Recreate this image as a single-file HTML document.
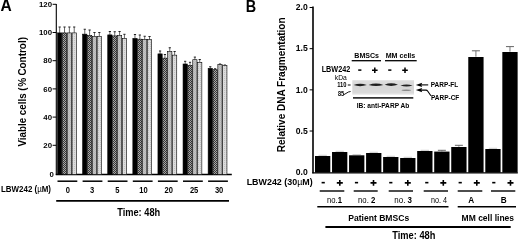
<!DOCTYPE html>
<html><head><meta charset="utf-8"><style>
html,body{margin:0;padding:0;background:#fff;}
svg{display:block;filter:blur(0.3px);}
text{font-family:"Liberation Sans", sans-serif;fill:#000;}
.tk{font-size:7.8px;font-weight:bold;}
.tkb{font-size:8.6px;font-weight:bold;}
.xl{font-size:8.7px;font-weight:bold;}
.lbw{font-size:8.5px;font-weight:bold;}
.time{font-size:10px;font-weight:bold;}
.yl{font-size:10.2px;font-weight:bold;}
.pl{font-size:16.4px;font-weight:bold;}
.pm{font-size:11px;font-weight:bold;}
.no{font-size:8.2px;}
.ab{font-size:8.2px;font-weight:bold;}
.grp{font-size:9.6px;font-weight:bold;}
.ins{font-size:7.9px;font-weight:bold;}
.pmi{font-size:10px;font-weight:bold;}
.kda{font-size:7.6px;}
</style></head>
<body><svg width="520" height="240" viewBox="0 0 520 240">
<defs>
<pattern id="pX" width="2" height="2" patternUnits="userSpaceOnUse"><rect width="2" height="2" fill="#a8a8a8"/><rect width="1" height="1" fill="#383838"/><rect x="1" y="1" width="1" height="1" fill="#383838"/></pattern>
<pattern id="pL" width="2" height="2" patternUnits="userSpaceOnUse"><rect width="2" height="2" fill="#c4c4c4"/><rect width="1" height="1" fill="#b6b6b6"/><rect x="1" y="1" width="1" height="1" fill="#b6b6b6"/></pattern>
<pattern id="pD" width="2" height="2" patternUnits="userSpaceOnUse"><rect width="2" height="2" fill="#dcdcdc"/><rect width="1" height="1" fill="#c2c2c2"/></pattern>
<linearGradient id="gBlot" x1="0" y1="0" x2="0" y2="1"><stop offset="0" stop-color="#dedede"/><stop offset="0.5" stop-color="#d6d6d6"/><stop offset="0.85" stop-color="#dadada"/><stop offset="1" stop-color="#ececec"/></linearGradient>
</defs>
<rect width="520" height="240" fill="#fff"/>
<line x1="56.3" y1="4" x2="56.3" y2="175" stroke="#000" stroke-width="1.1"/>
<line x1="55.8" y1="174.5" x2="231.8" y2="174.5" stroke="#000" stroke-width="1.3"/>
<text x="53.9" y="176.60" text-anchor="end" class="tk">0</text>
<line x1="52.6" y1="145.30" x2="56.3" y2="145.30" stroke="#000" stroke-width="1"/>
<text x="52" y="148.05" text-anchor="end" class="tk">20</text>
<line x1="52.6" y1="117.10" x2="56.3" y2="117.10" stroke="#000" stroke-width="1"/>
<text x="52" y="119.85" text-anchor="end" class="tk">40</text>
<line x1="52.6" y1="88.90" x2="56.3" y2="88.90" stroke="#000" stroke-width="1"/>
<text x="52" y="91.65" text-anchor="end" class="tk">60</text>
<line x1="52.6" y1="60.70" x2="56.3" y2="60.70" stroke="#000" stroke-width="1"/>
<text x="52" y="63.45" text-anchor="end" class="tk">80</text>
<line x1="52.6" y1="32.50" x2="56.3" y2="32.50" stroke="#000" stroke-width="1"/>
<text x="52" y="35.25" text-anchor="end" class="tk">100</text>
<line x1="52.6" y1="4.30" x2="56.3" y2="4.30" stroke="#000" stroke-width="1"/>
<text x="52" y="7.05" text-anchor="end" class="tk">120</text>
<line x1="59.67" y1="27.00" x2="59.67" y2="32.90" stroke="#666" stroke-width="1"/>
<line x1="58.57" y1="27.00" x2="60.77" y2="27.00" stroke="#222" stroke-width="1"/>
<rect x="57.55" y="32.90" width="4.25" height="141.60" fill="#000" stroke="#000" stroke-width="0.6"/>
<line x1="64.53" y1="27.00" x2="64.53" y2="32.90" stroke="#666" stroke-width="1"/>
<line x1="63.43" y1="27.00" x2="65.62" y2="27.00" stroke="#222" stroke-width="1"/>
<rect x="62.40" y="32.90" width="4.25" height="141.60" fill="url(#pX)" stroke="#000" stroke-width="0.6"/>
<line x1="69.38" y1="27.00" x2="69.38" y2="32.90" stroke="#666" stroke-width="1"/>
<line x1="68.28" y1="27.00" x2="70.47" y2="27.00" stroke="#222" stroke-width="1"/>
<rect x="67.25" y="32.90" width="4.25" height="141.60" fill="url(#pL)" stroke="#000" stroke-width="0.6"/>
<line x1="74.22" y1="27.00" x2="74.22" y2="32.90" stroke="#666" stroke-width="1"/>
<line x1="73.12" y1="27.00" x2="75.32" y2="27.00" stroke="#222" stroke-width="1"/>
<rect x="72.10" y="32.90" width="4.25" height="141.60" fill="url(#pD)" stroke="#000" stroke-width="0.6"/>
<line x1="57.50" y1="181.2" x2="77.30" y2="181.2" stroke="#000" stroke-width="1.5"/>
<line x1="84.77" y1="29.25" x2="84.77" y2="34.15" stroke="#666" stroke-width="1"/>
<line x1="83.67" y1="29.25" x2="85.87" y2="29.25" stroke="#222" stroke-width="1"/>
<rect x="82.65" y="34.15" width="4.25" height="140.35" fill="#000" stroke="#000" stroke-width="0.6"/>
<line x1="89.62" y1="30.00" x2="89.62" y2="35.40" stroke="#666" stroke-width="1"/>
<line x1="88.52" y1="30.00" x2="90.72" y2="30.00" stroke="#222" stroke-width="1"/>
<rect x="87.50" y="35.40" width="4.25" height="139.10" fill="url(#pX)" stroke="#000" stroke-width="0.6"/>
<line x1="94.47" y1="32.50" x2="94.47" y2="36.40" stroke="#666" stroke-width="1"/>
<line x1="93.38" y1="32.50" x2="95.57" y2="32.50" stroke="#222" stroke-width="1"/>
<rect x="92.35" y="36.40" width="4.25" height="138.10" fill="url(#pL)" stroke="#000" stroke-width="0.6"/>
<line x1="99.32" y1="32.50" x2="99.32" y2="36.40" stroke="#666" stroke-width="1"/>
<line x1="98.22" y1="32.50" x2="100.42" y2="32.50" stroke="#222" stroke-width="1"/>
<rect x="97.20" y="36.40" width="4.25" height="138.10" fill="url(#pD)" stroke="#000" stroke-width="0.6"/>
<line x1="82.60" y1="181.2" x2="102.40" y2="181.2" stroke="#000" stroke-width="1.5"/>
<line x1="109.88" y1="31.50" x2="109.88" y2="34.90" stroke="#666" stroke-width="1"/>
<line x1="108.78" y1="31.50" x2="110.97" y2="31.50" stroke="#222" stroke-width="1"/>
<rect x="107.75" y="34.90" width="4.25" height="139.60" fill="#000" stroke="#000" stroke-width="0.6"/>
<line x1="114.72" y1="31.75" x2="114.72" y2="35.90" stroke="#666" stroke-width="1"/>
<line x1="113.62" y1="31.75" x2="115.82" y2="31.75" stroke="#222" stroke-width="1"/>
<rect x="112.60" y="35.90" width="4.25" height="138.60" fill="url(#pX)" stroke="#000" stroke-width="0.6"/>
<line x1="119.58" y1="31.50" x2="119.58" y2="35.40" stroke="#666" stroke-width="1"/>
<line x1="118.48" y1="31.50" x2="120.67" y2="31.50" stroke="#222" stroke-width="1"/>
<rect x="117.45" y="35.40" width="4.25" height="139.10" fill="url(#pL)" stroke="#000" stroke-width="0.6"/>
<line x1="124.42" y1="34.30" x2="124.42" y2="38.40" stroke="#666" stroke-width="1"/>
<line x1="123.33" y1="34.30" x2="125.52" y2="34.30" stroke="#222" stroke-width="1"/>
<rect x="122.30" y="38.40" width="4.25" height="136.10" fill="url(#pD)" stroke="#000" stroke-width="0.6"/>
<line x1="107.70" y1="181.2" x2="127.50" y2="181.2" stroke="#000" stroke-width="1.5"/>
<line x1="134.98" y1="34.50" x2="134.98" y2="38.40" stroke="#666" stroke-width="1"/>
<line x1="133.88" y1="34.50" x2="136.08" y2="34.50" stroke="#222" stroke-width="1"/>
<rect x="132.85" y="38.40" width="4.25" height="136.10" fill="#000" stroke="#000" stroke-width="0.6"/>
<line x1="139.83" y1="35.00" x2="139.83" y2="39.20" stroke="#666" stroke-width="1"/>
<line x1="138.73" y1="35.00" x2="140.93" y2="35.00" stroke="#222" stroke-width="1"/>
<rect x="137.70" y="39.20" width="4.25" height="135.30" fill="url(#pX)" stroke="#000" stroke-width="0.6"/>
<line x1="144.68" y1="36.25" x2="144.68" y2="39.60" stroke="#666" stroke-width="1"/>
<line x1="143.58" y1="36.25" x2="145.78" y2="36.25" stroke="#222" stroke-width="1"/>
<rect x="142.55" y="39.60" width="4.25" height="134.90" fill="url(#pL)" stroke="#000" stroke-width="0.6"/>
<line x1="149.53" y1="36.50" x2="149.53" y2="39.60" stroke="#666" stroke-width="1"/>
<line x1="148.43" y1="36.50" x2="150.63" y2="36.50" stroke="#222" stroke-width="1"/>
<rect x="147.40" y="39.60" width="4.25" height="134.90" fill="url(#pD)" stroke="#000" stroke-width="0.6"/>
<line x1="132.80" y1="181.2" x2="152.60" y2="181.2" stroke="#000" stroke-width="1.5"/>
<line x1="160.08" y1="51.00" x2="160.08" y2="53.90" stroke="#666" stroke-width="1"/>
<line x1="158.98" y1="51.00" x2="161.18" y2="51.00" stroke="#222" stroke-width="1"/>
<rect x="157.95" y="53.90" width="4.25" height="120.60" fill="#000" stroke="#000" stroke-width="0.6"/>
<line x1="164.93" y1="54.50" x2="164.93" y2="58.15" stroke="#666" stroke-width="1"/>
<line x1="163.83" y1="54.50" x2="166.03" y2="54.50" stroke="#222" stroke-width="1"/>
<rect x="162.80" y="58.15" width="4.25" height="116.35" fill="url(#pX)" stroke="#000" stroke-width="0.6"/>
<line x1="169.78" y1="47.75" x2="169.78" y2="51.40" stroke="#666" stroke-width="1"/>
<line x1="168.68" y1="47.75" x2="170.88" y2="47.75" stroke="#222" stroke-width="1"/>
<rect x="167.65" y="51.40" width="4.25" height="123.10" fill="url(#pL)" stroke="#000" stroke-width="0.6"/>
<line x1="174.63" y1="51.50" x2="174.63" y2="55.15" stroke="#666" stroke-width="1"/>
<line x1="173.53" y1="51.50" x2="175.73" y2="51.50" stroke="#222" stroke-width="1"/>
<rect x="172.50" y="55.15" width="4.25" height="119.35" fill="url(#pD)" stroke="#000" stroke-width="0.6"/>
<line x1="157.90" y1="181.2" x2="177.70" y2="181.2" stroke="#000" stroke-width="1.5"/>
<line x1="185.18" y1="61.30" x2="185.18" y2="64.00" stroke="#666" stroke-width="1"/>
<line x1="184.08" y1="61.30" x2="186.28" y2="61.30" stroke="#222" stroke-width="1"/>
<rect x="183.05" y="64.00" width="4.25" height="110.50" fill="#000" stroke="#000" stroke-width="0.6"/>
<line x1="190.03" y1="62.30" x2="190.03" y2="65.30" stroke="#666" stroke-width="1"/>
<line x1="188.93" y1="62.30" x2="191.12" y2="62.30" stroke="#222" stroke-width="1"/>
<rect x="187.90" y="65.30" width="4.25" height="109.20" fill="url(#pX)" stroke="#000" stroke-width="0.6"/>
<line x1="194.88" y1="57.10" x2="194.88" y2="59.70" stroke="#666" stroke-width="1"/>
<line x1="193.78" y1="57.10" x2="195.97" y2="57.10" stroke="#222" stroke-width="1"/>
<rect x="192.75" y="59.70" width="4.25" height="114.80" fill="url(#pL)" stroke="#000" stroke-width="0.6"/>
<line x1="199.73" y1="59.50" x2="199.73" y2="62.30" stroke="#666" stroke-width="1"/>
<line x1="198.63" y1="59.50" x2="200.83" y2="59.50" stroke="#222" stroke-width="1"/>
<rect x="197.60" y="62.30" width="4.25" height="112.20" fill="url(#pD)" stroke="#000" stroke-width="0.6"/>
<line x1="183.00" y1="181.2" x2="202.80" y2="181.2" stroke="#000" stroke-width="1.5"/>
<line x1="210.28" y1="66.75" x2="210.28" y2="68.40" stroke="#666" stroke-width="1"/>
<line x1="209.18" y1="66.75" x2="211.38" y2="66.75" stroke="#222" stroke-width="1"/>
<rect x="208.15" y="68.40" width="4.25" height="106.10" fill="#000" stroke="#000" stroke-width="0.6"/>
<line x1="215.13" y1="68.75" x2="215.13" y2="69.70" stroke="#666" stroke-width="1"/>
<line x1="214.03" y1="68.75" x2="216.23" y2="68.75" stroke="#222" stroke-width="1"/>
<rect x="213.00" y="69.70" width="4.25" height="104.80" fill="url(#pX)" stroke="#000" stroke-width="0.6"/>
<line x1="219.98" y1="64.00" x2="219.98" y2="64.60" stroke="#666" stroke-width="1"/>
<line x1="218.88" y1="64.00" x2="221.08" y2="64.00" stroke="#222" stroke-width="1"/>
<rect x="217.85" y="64.60" width="4.25" height="109.90" fill="url(#pL)" stroke="#000" stroke-width="0.6"/>
<line x1="224.83" y1="65.00" x2="224.83" y2="65.40" stroke="#666" stroke-width="1"/>
<line x1="223.73" y1="65.00" x2="225.93" y2="65.00" stroke="#222" stroke-width="1"/>
<rect x="222.70" y="65.40" width="4.25" height="109.10" fill="url(#pD)" stroke="#000" stroke-width="0.6"/>
<line x1="208.10" y1="181.2" x2="227.90" y2="181.2" stroke="#000" stroke-width="1.5"/>
<text transform="translate(67.75,192.8) scale(0.87,1)" text-anchor="middle" class="xl">0</text>
<text transform="translate(92.1,192.8) scale(0.87,1)" text-anchor="middle" class="xl">3</text>
<text transform="translate(117.4,192.8) scale(0.87,1)" text-anchor="middle" class="xl">5</text>
<text transform="translate(143.4,192.8) scale(0.87,1)" text-anchor="middle" class="xl">10</text>
<text transform="translate(168.75,192.8) scale(0.87,1)" text-anchor="middle" class="xl">20</text>
<text transform="translate(194.1,192.8) scale(0.87,1)" text-anchor="middle" class="xl">25</text>
<text transform="translate(219.1,192.8) scale(0.87,1)" text-anchor="middle" class="xl">30</text>
<line x1="56.2" y1="200.9" x2="229" y2="200.9" stroke="#000" stroke-width="1.7"/>
<text x="1" y="192.1" class="lbw" textLength="50" lengthAdjust="spacingAndGlyphs">LBW242 (<tspan font-weight="normal">µ</tspan>M)</text>
<text x="117.2" y="215.9" class="time" textLength="43" lengthAdjust="spacingAndGlyphs">Time: 48h</text>
<g transform="translate(25.9,146.5) rotate(-90)">
<text x="0" y="0" class="yl" textLength="59.1" lengthAdjust="spacingAndGlyphs">Viable cells (</text>
<text transform="translate(59.8,0) scale(0.98,1)" class="yl">%</text>
<text x="70.9" y="0" class="yl" textLength="38.6" lengthAdjust="spacingAndGlyphs">Control)</text>
</g>
<text transform="translate(0.6,11.2) scale(0.95,1)" class="pl">A</text>
<line x1="313" y1="6.5" x2="313" y2="173.3" stroke="#000" stroke-width="1.6"/>
<line x1="312.2" y1="172.9" x2="517.8" y2="172.9" stroke="#000" stroke-width="1.4"/>
<text x="307.8" y="175.00" text-anchor="end" class="tkb">0.0</text>
<line x1="309.6" y1="131.02" x2="313" y2="131.02" stroke="#000" stroke-width="1"/>
<text x="307.8" y="133.82" text-anchor="end" class="tkb">0.5</text>
<line x1="309.6" y1="89.85" x2="313" y2="89.85" stroke="#000" stroke-width="1"/>
<text x="307.8" y="92.65" text-anchor="end" class="tkb">1.0</text>
<line x1="309.6" y1="48.67" x2="313" y2="48.67" stroke="#000" stroke-width="1"/>
<text x="307.8" y="51.47" text-anchor="end" class="tkb">1.5</text>
<line x1="309.6" y1="7.50" x2="313" y2="7.50" stroke="#000" stroke-width="1"/>
<text x="307.8" y="10.30" text-anchor="end" class="tkb">2.0</text>
<line x1="318.50" y1="155.30" x2="326.80" y2="155.30" stroke="#bbb" stroke-width="0.8"/>
<rect x="315.00" y="156.0" width="15.3" height="16.60" fill="#000"/>
<line x1="335.53" y1="151.30" x2="343.83" y2="151.30" stroke="#bbb" stroke-width="0.8"/>
<rect x="332.03" y="152.0" width="15.3" height="20.60" fill="#000"/>
<line x1="352.56" y1="154.60" x2="360.86" y2="154.60" stroke="#bbb" stroke-width="0.8"/>
<rect x="349.06" y="155.3" width="15.3" height="17.30" fill="#000"/>
<line x1="369.59" y1="152.30" x2="377.89" y2="152.30" stroke="#bbb" stroke-width="0.8"/>
<rect x="366.09" y="153.0" width="15.3" height="19.60" fill="#000"/>
<line x1="386.62" y1="156.30" x2="394.92" y2="156.30" stroke="#bbb" stroke-width="0.8"/>
<rect x="383.12" y="157.0" width="15.3" height="15.60" fill="#000"/>
<line x1="403.65" y1="157.30" x2="411.95" y2="157.30" stroke="#bbb" stroke-width="0.8"/>
<rect x="400.15" y="158.0" width="15.3" height="14.60" fill="#000"/>
<line x1="420.68" y1="150.30" x2="428.98" y2="150.30" stroke="#bbb" stroke-width="0.8"/>
<rect x="417.18" y="151.0" width="15.3" height="21.60" fill="#000"/>
<line x1="441.86" y1="150.3" x2="441.86" y2="151.3" stroke="#666" stroke-width="0.9"/>
<line x1="437.86" y1="150.3" x2="445.86" y2="150.3" stroke="#666" stroke-width="1"/>
<rect x="434.21" y="151.60000000000002" width="15.3" height="21.00" fill="#000"/>
<line x1="458.89" y1="145.3" x2="458.89" y2="146.7" stroke="#666" stroke-width="0.9"/>
<line x1="454.89" y1="145.3" x2="462.89" y2="145.3" stroke="#666" stroke-width="1"/>
<rect x="451.24" y="147.0" width="15.3" height="25.60" fill="#000"/>
<line x1="475.92" y1="50.8" x2="475.92" y2="56.7" stroke="#666" stroke-width="0.9"/>
<line x1="471.92" y1="50.8" x2="479.92" y2="50.8" stroke="#666" stroke-width="1"/>
<rect x="468.27" y="57.0" width="15.3" height="115.60" fill="#000"/>
<line x1="488.80" y1="148.30" x2="497.10" y2="148.30" stroke="#bbb" stroke-width="0.8"/>
<rect x="485.30" y="149.0" width="15.3" height="23.60" fill="#000"/>
<line x1="509.98" y1="46.6" x2="509.98" y2="51.7" stroke="#666" stroke-width="0.9"/>
<line x1="505.98" y1="46.6" x2="513.98" y2="46.6" stroke="#666" stroke-width="1"/>
<rect x="502.33" y="52.0" width="15.3" height="120.60" fill="#000"/>
<text x="246.7" y="185.4" class="lbw" textLength="66" lengthAdjust="spacingAndGlyphs">LBW242 (30<tspan font-weight="normal">µ</tspan>M)</text>
<rect x="321.60" y="181.85" width="3.2" height="1.6" fill="#000"/>
<path d="M336.80,182.05h6.0v1.6h-6.0z M339.00,180.05h1.6v5.6h-1.6z" fill="#000"/>
<rect x="354.90" y="181.85" width="3.2" height="1.6" fill="#000"/>
<path d="M370.50,182.05h6.0v1.6h-6.0z M372.70,180.05h1.6v5.6h-1.6z" fill="#000"/>
<rect x="389.20" y="181.85" width="3.2" height="1.6" fill="#000"/>
<path d="M404.80,182.05h6.0v1.6h-6.0z M407.00,180.05h1.6v5.6h-1.6z" fill="#000"/>
<rect x="425.20" y="181.85" width="3.2" height="1.6" fill="#000"/>
<path d="M440.30,182.05h6.0v1.6h-6.0z M442.50,180.05h1.6v5.6h-1.6z" fill="#000"/>
<rect x="458.60" y="181.85" width="3.2" height="1.6" fill="#000"/>
<path d="M473.80,182.05h6.0v1.6h-6.0z M476.00,180.05h1.6v5.6h-1.6z" fill="#000"/>
<rect x="492.20" y="181.85" width="3.2" height="1.6" fill="#000"/>
<path d="M507.50,182.05h6.0v1.6h-6.0z M509.70,180.05h1.6v5.6h-1.6z" fill="#000"/>
<line x1="319.7" y1="191" x2="344.3" y2="191" stroke="#000" stroke-width="1.4"/>
<line x1="353.7" y1="191" x2="377.7" y2="191" stroke="#000" stroke-width="1.4"/>
<line x1="388.7" y1="191" x2="413" y2="191" stroke="#000" stroke-width="1.4"/>
<line x1="423.7" y1="191" x2="448" y2="191" stroke="#000" stroke-width="1.4"/>
<line x1="457.7" y1="191" x2="482.3" y2="191" stroke="#000" stroke-width="1.4"/>
<line x1="491" y1="191" x2="515.3" y2="191" stroke="#000" stroke-width="1.4"/>
<text x="327" y="202.7" class="no" textLength="15" lengthAdjust="spacingAndGlyphs">no.<tspan font-weight="bold">1</tspan></text>
<text x="358" y="202.7" class="no" textLength="17.3" lengthAdjust="spacingAndGlyphs">no. <tspan font-weight="bold">2</tspan></text>
<text x="394.3" y="202.7" class="no" textLength="17.7" lengthAdjust="spacingAndGlyphs">no. <tspan font-weight="bold">3</tspan></text>
<text x="431" y="202.7" class="no" textLength="16" lengthAdjust="spacingAndGlyphs">no. <tspan font-weight="normal">4</tspan></text>
<text x="471.2" y="202.7" text-anchor="middle" class="ab">A</text>
<text x="503.6" y="202.7" text-anchor="middle" class="ab">B</text>
<line x1="317.3" y1="206.7" x2="448.5" y2="206.7" stroke="#000" stroke-width="1.5"/>
<line x1="457.7" y1="206.7" x2="516" y2="206.7" stroke="#000" stroke-width="1.5"/>
<text x="348.2" y="220.8" class="grp" textLength="61" lengthAdjust="spacingAndGlyphs">Patient BMSCs</text>
<text x="461.6" y="220.8" class="grp" textLength="52.5" lengthAdjust="spacingAndGlyphs">MM cell lines</text>
<line x1="325.4" y1="226.9" x2="510.7" y2="226.9" stroke="#000" stroke-width="2"/>
<text x="392.2" y="239.3" class="time" textLength="43.2" lengthAdjust="spacingAndGlyphs">Time: 48h</text>
<text transform="translate(284.5,152.2) rotate(-90)" class="yl" textLength="134.8" lengthAdjust="spacingAndGlyphs">Relative DNA Fragmentation</text>
<text transform="translate(245.8,11.6) scale(0.88,1)" class="pl">B</text>
<text x="354.3" y="58" class="ins" textLength="24.7" lengthAdjust="spacingAndGlyphs">BMSCs</text>
<text x="385.7" y="57.7" class="ins" textLength="29.6" lengthAdjust="spacingAndGlyphs">MM cells</text>
<line x1="351.7" y1="60.7" x2="381" y2="60.7" stroke="#000" stroke-width="1.3"/>
<line x1="385" y1="60.7" x2="416.7" y2="60.7" stroke="#000" stroke-width="1.3"/>
<text x="321.7" y="72" class="ins" style="font-size:8.6px" textLength="28.6" lengthAdjust="spacingAndGlyphs">LBW242</text>
<rect x="358.20" y="69.35" width="3.2" height="1.5" fill="#000"/>
<path d="M372.00,69.55h5.6v1.5h-5.6z M374.05,67.50h1.5v5.6h-1.5z" fill="#000"/>
<rect x="388.20" y="69.35" width="3.2" height="1.5" fill="#000"/>
<path d="M402.20,69.55h5.6v1.5h-5.6z M404.25,67.50h1.5v5.6h-1.5z" fill="#000"/>
<text x="334.8" y="79.8" class="kda" style="font-size:7.9px" textLength="12" lengthAdjust="spacingAndGlyphs">kDa</text>
<text x="337.2" y="86.8" class="kda" style="font-weight:bold;font-size:6.9px" textLength="9.3" lengthAdjust="spacingAndGlyphs">110</text>
<line x1="347.8" y1="85" x2="350.6" y2="85" stroke="#000" stroke-width="1"/>
<text x="337.9" y="95.6" class="kda" style="font-weight:bold;font-size:7px" textLength="6.1" lengthAdjust="spacingAndGlyphs">85</text>
<path d="M343.3,95 L348.4,92 L350.6,91.5" stroke="#000" stroke-width="0.9" fill="none"/>
<rect x="352.3" y="80.2" width="61.7" height="14.6" fill="url(#gBlot)"/>
<path d="M353.6,85.1 Q360,82.3 366.8,85.1 Q360,87.3 353.6,85.1 Z" fill="#1e1e1e"/>
<path d="M368.6,84.9 Q376,82.0 383.4,84.9 Q376,87.2 368.6,84.9 Z" fill="#1e1e1e"/>
<path d="M384.6,84.8 Q391,81.9 398.0,84.8 Q391,87.1 384.6,84.8 Z" fill="#1e1e1e"/>
<path d="M400.4,85.6 Q406.5,83.6 412.6,85.6 Q406.5,87.4 400.4,85.6 Z" fill="#222"/>
<ellipse cx="406.3" cy="90.2" rx="4.8" ry="0.75" fill="#8a8a8a"/>
<line x1="353" y1="97.9" x2="413.3" y2="97.9" stroke="#333" stroke-width="1.6"/>
<text x="356.7" y="107.7" class="ins" textLength="52.6" lengthAdjust="spacingAndGlyphs">IB: anti-PARP Ab</text>
<line x1="420" y1="84.9" x2="428.2" y2="84.9" stroke="#000" stroke-width="1.1"/>
<path d="M415.8,84.9 L422.2,82.7 L421.2,84.9 L422.2,87.1 Z" fill="#000"/>
<path d="M420,90.1 L426,90.1 Q427,90.1 427.8,91.2 L430.9,95.8" stroke="#000" stroke-width="1.1" fill="none"/>
<path d="M415.8,90.1 L422.2,87.9 L421.2,90.1 L422.2,92.3 Z" fill="#000"/>
<text x="430.7" y="87" class="ins" textLength="27.6" lengthAdjust="spacingAndGlyphs">PARP-FL</text>
<text x="431" y="100" class="ins" textLength="28.3" lengthAdjust="spacingAndGlyphs">PARP-CF</text>
</svg></body></html>
